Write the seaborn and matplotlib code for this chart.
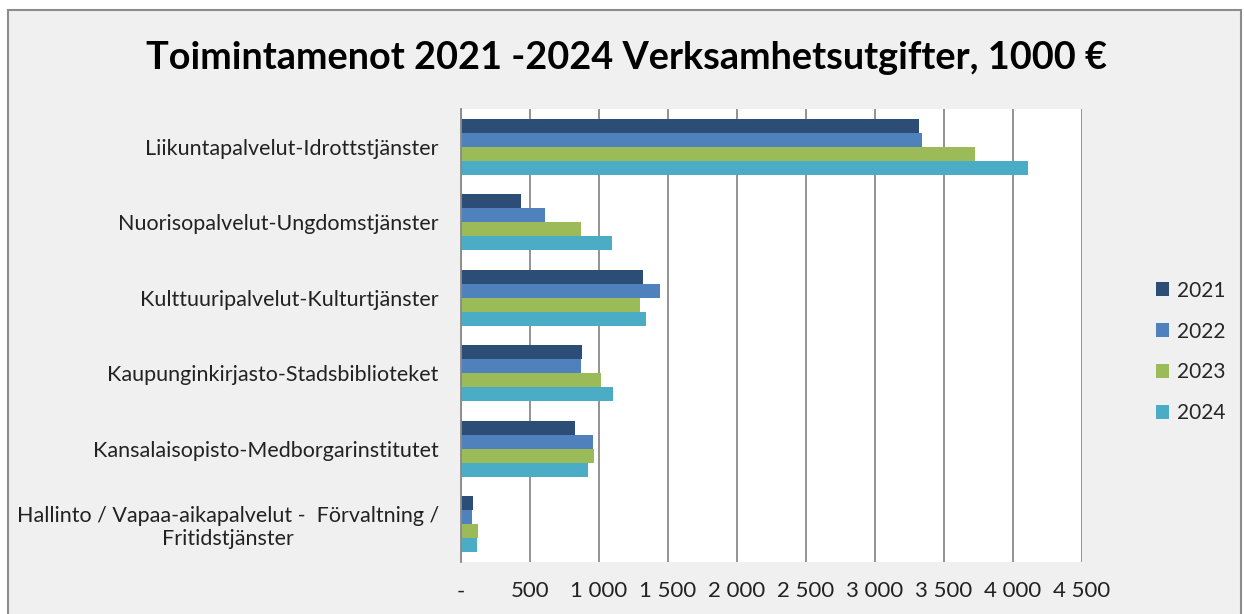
import numpy as np
import pandas as pd
import matplotlib
matplotlib.use('Agg')
import matplotlib.pyplot as plt
from matplotlib.patches import Rectangle
from matplotlib.ticker import FuncFormatter
import seaborn as sns

categories = [
    'Liikuntapalvelut-Idrottstjänster',
    'Nuorisopalvelut-Ungdomstjänster',
    'Kulttuuripalvelut-Kulturtjänster',
    'Kaupunginkirjasto-Stadsbiblioteket',
    'Kansalaisopisto-Medborgarinstitutet',
    'Hallinto / Vapaa-aikapalvelut -  Förvaltning /\nFritidstjänster',
]
years = ['2021', '2022', '2023', '2024']
v2021 = [3319, 432, 1322, 877, 829, 84]
v2022 = [3337, 609, 1443, 867, 957, 82]
v2023 = [3725, 870, 1298, 1012, 966, 125]
v2024 = [4112, 1095, 1339, 1104, 918, 116]
colors = ['#2C4D75', '#4F81BD', '#9BBB59', '#4BACC6']
title = 'Toimintamenot 2021 -2024 Verksamhetsutgifter, 1000 €'

df = pd.DataFrame({
    'Toiminto': categories * 4,
    'Vuosi': np.repeat(years, len(categories)),
    'Menot': v2021 + v2022 + v2023 + v2024,
})

sns.set_theme(style='white')
plt.rcParams['font.family'] = ['Lato', 'DejaVu Sans']

W, H = 1244, 614
fig = plt.figure(figsize=(W / 100, H / 100), dpi=100)
fig.patch.set_facecolor('white')
# grey chart frame like the spreadsheet chart area
fig.patches.append(Rectangle((8 / W, -0.05), (1241 - 8) / W, (H - 10) / H + 0.05,
                             transform=fig.transFigure, facecolor='#f0f0f0',
                             edgecolor='#8c8c8c', linewidth=1.5, zorder=-10))

ax = fig.add_axes([461 / W, (H - 562) / H, (1082 - 461) / W, (562 - 109) / H])
sns.barplot(data=df, y='Toiminto', x='Menot', hue='Vuosi', hue_order=years,
            palette=colors, orient='h', width=0.74, saturation=1,
            linewidth=0, ax=ax)

ax.set_facecolor('white')
ax.set_xlim(0, 4500)
ax.set_xticks(range(0, 4501, 500))
ax.xaxis.set_major_formatter(FuncFormatter(
    lambda v, p: '-' if v == 0 else f'{int(v):,}'.replace(',', ' ')))
ax.grid(axis='x', color='#8a8a8a', linewidth=1.3)
ax.grid(axis='y', visible=False)
ax.set_axisbelow(True)
for s in ['top', 'right', 'bottom']:
    ax.spines[s].set_visible(False)
ax.spines['left'].set_color('#8a8a8a')
ax.spines['left'].set_linewidth(1.3)
ax.set_xlabel('')
ax.set_ylabel('')
ax.tick_params(axis='y', length=0, labelsize=15.5, colors='#222222', pad=16)
ax.tick_params(axis='x', length=0, labelsize=16, colors='#222222', pad=14)
for lbl in ax.get_yticklabels():
    lbl.set_multialignment('center')

handles, labels = ax.get_legend_handles_labels()
ax.legend(handles, labels, loc='center left',
          bbox_to_anchor=(1137 / W, (H - 352) / H), bbox_transform=fig.transFigure,
          frameon=False, fontsize=15, handlelength=0.65, handleheight=0.65,
          labelspacing=1.0, handletextpad=0.35)

fig.text(626 / W, (H - 58) / H, title, ha='center', va='center',
         fontsize=27.3, fontweight='bold', color='black')

fig.savefig('out.png', dpi=100)
